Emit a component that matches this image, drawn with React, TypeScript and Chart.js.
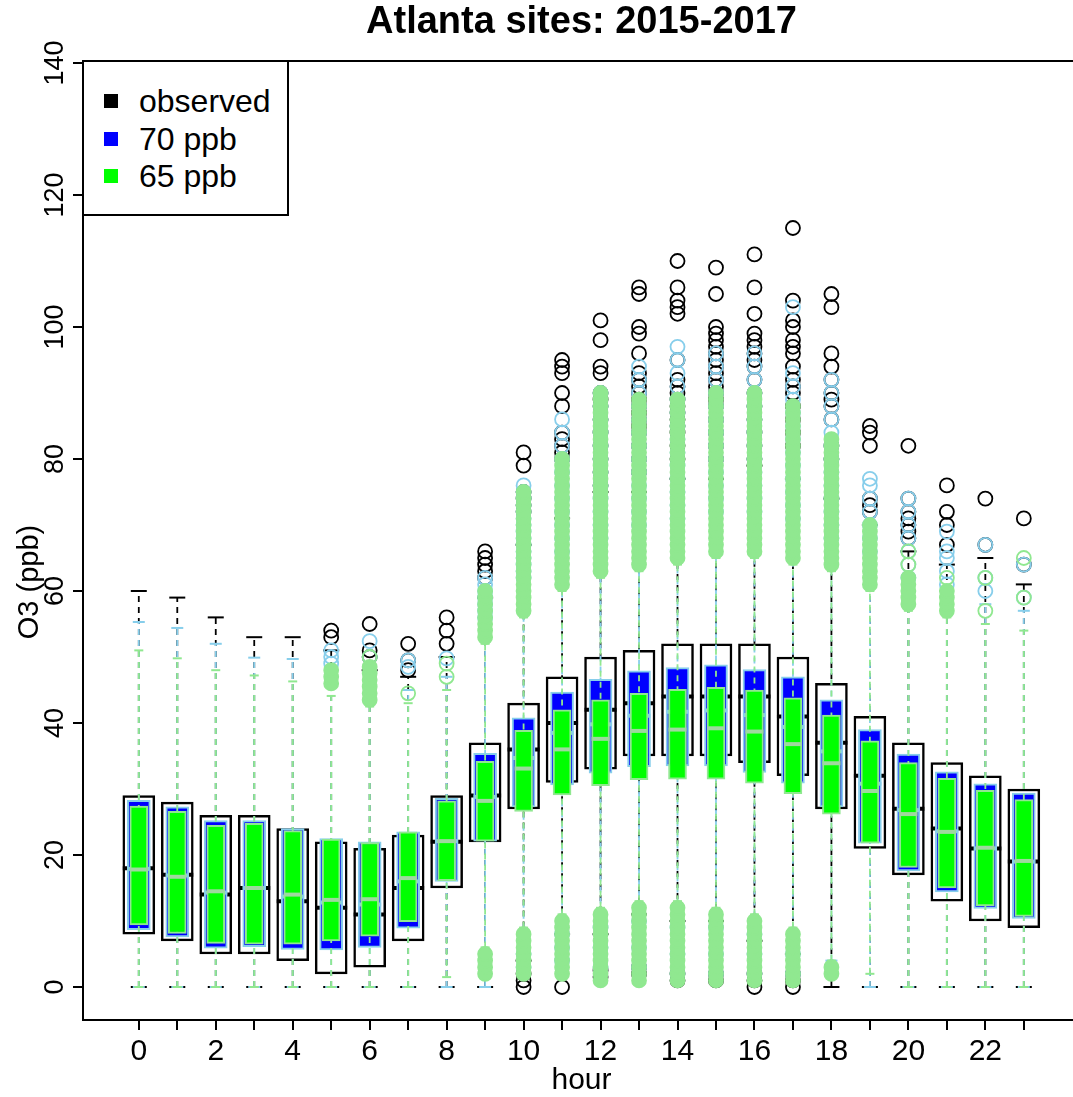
import React, { useEffect, useRef } from 'react';
import { Chart, registerables } from 'chart.js';
Chart.register(...registerables);

const FONT = '"Liberation Sans", Arial, Helvetica, sans-serif';

const titleText = 'Atlanta sites: 2015-2017';
const xTitle = 'hour';
const yTitle = 'O3 (ppb)';
const hours = [0, 1, 2, 3, 4, 5, 6, 7, 8, 9, 10, 11, 12, 13, 14, 15, 16, 17, 18, 19, 20, 21, 22, 23];
const labeledHours = [0, 2, 4, 6, 8, 10, 12, 14, 16, 18, 20, 22];
const yTicks = [0, 20, 40, 60, 80, 100, 120, 140];
const legendLabels = ['observed', '70 ppb', '65 ppb'];

// observed
const obsLow = [0, 0, 0, 0, 0, 0, 0, 0, 0, 0, 4, 8, 8, 11, 10, 10, 7, 5, 0, 0, 0, 0, 0, 0];
const obsQ1 = [8, 7, 5, 5, 4, 2, 3, 7, 15, 22, 27, 31, 33, 35, 35, 35, 34, 32, 27, 21, 17, 13, 10, 9];
const obsMed = [18, 17, 14, 15, 13, 12, 11, 15, 22, 29, 36, 40, 42, 43, 44, 44, 44, 41, 37, 32, 27, 24, 21, 19];
const obsQ3 = [29, 28, 26, 26, 24, 22, 21, 23, 29, 37, 43, 47, 50, 51, 52, 52, 52, 50, 46, 41, 37, 34, 32, 30];
const obsHigh = [60, 59, 56, 53, 53, 51, 48, 47, 50, 59, 67, 71, 75, 75, 77, 77, 79, 77, 74, 70, 66, 64, 65, 61];
const obsOut = [
  [], [], [], [], [],
  [53, 54],
  [50, 51, 55],
  [48, 49.5, 52],
  [52, 54, 56],
  [62, 63, 64, 65, 66],
  [0, 1, 2, 72, 73, 74, 75, 79, 81],
  [0, 80, 81, 82, 83, 84, 88, 90, 93, 94, 95],
  [1.5, 2.5, 76, 78, 80, 82, 84, 86, 88, 89, 90, 93, 94, 98, 101],
  [2, 3, 78, 80, 82, 84, 85, 86, 87, 88, 89, 90, 91, 92, 93, 96, 99, 100, 105, 106],
  [1, 2, 80, 82, 84, 85, 86, 87, 88, 89, 90, 91, 92, 95, 102, 103, 104, 106, 110],
  [1, 2, 80, 82, 84, 86, 88, 89, 90, 91, 92, 93, 94, 95, 96, 97, 98, 99, 100, 105, 109],
  [0, 1, 2, 80, 82, 84, 86, 88, 90, 92, 94, 95, 96, 97, 98, 99, 102, 106, 111],
  [0, 1, 2, 82, 84, 86, 88, 90, 91, 92, 94, 96, 97, 98, 100, 101, 104, 115],
  [80, 82, 86, 88, 89, 90, 92, 94, 96, 103, 105],
  [72, 73, 74, 82, 84, 85],
  [68, 69, 70, 71, 72, 74, 82],
  [67, 70, 72, 76],
  [67, 74],
  [64, 71],
];

// 70 ppb
const p70Low = [0, 0, 0, 0, 0, 0, 0, 0, 0, 0, 7, 9, 11, 12, 11, 11, 9, 7, 4, 0, 0, 0, 0, 0];
const p70Q1 = [8.7, 7.6, 5.9, 6.1, 5.7, 5.6, 6.0, 8.9, 16.0, 22.1, 27.3, 30.6, 32.4, 33.4, 33.5, 33.5, 32.5, 30.9, 27.3, 21.8, 17.6, 14.4, 11.9, 10.4];
const p70Med = [17.9, 16.9, 14.3, 15.0, 13.7, 12.8, 12.5, 16.0, 22.1, 28.8, 34.7, 38.5, 39.8, 41.1, 41.7, 41.9, 41.2, 39.4, 35.7, 30.8, 26.8, 23.6, 21.0, 19.0];
const p70Q3 = [28.3, 27.3, 25.2, 25.2, 24.0, 22.5, 22.0, 23.5, 28.6, 35.4, 40.8, 44.7, 46.6, 47.9, 48.4, 48.8, 48.1, 47.0, 43.5, 39.0, 35.3, 32.6, 30.8, 29.4];
const p70High = [55.3, 54.4, 52.0, 49.9, 49.7, 47, 45, 45, 47, 55, 61, 65, 67, 69, 70, 71, 71, 70, 67, 64, 61, 59, 58, 57];
const p70Out = [
  [], [], [], [], [],
  [49, 50, 51],
  [50, 52.4],
  [48.5, 49.5],
  [49.8],
  [56, 57, 58, 59, 60, 61, 62],
  [3, 5, 62, 63, 64, 65, 66, 67, 68, 69, 70, 71, 72, 73, 74, 75, 76],
  [4, 6, 8, 66, 68, 70, 72, 74, 76, 78, 80, 82, 84, 86],
  [3, 6, 9, 68, 70, 72, 74, 76, 78, 80, 82, 84, 86, 88, 90],
  [3, 6, 10, 70, 72, 74, 76, 78, 80, 82, 84, 86, 88, 90, 92, 94],
  [2, 5, 9, 71, 73, 75, 77, 79, 81, 83, 85, 87, 89, 91, 93, 95, 97],
  [2, 5, 9, 72, 74, 76, 78, 80, 82, 84, 86, 88, 90, 92, 94, 96],
  [2, 5, 8, 72, 74, 76, 78, 80, 82, 84, 86, 88, 90, 92, 94, 96],
  [2, 5, 71, 73, 75, 77, 79, 81, 83, 85, 87, 89, 91, 93, 103],
  [68, 70, 72, 74, 76, 78, 80, 82, 84, 86, 88, 90, 92],
  [66, 68, 70, 72, 74, 76, 77],
  [62, 64, 66, 68, 70, 72, 74],
  [61, 63, 65, 66, 69],
  [60, 62, 67],
  [59, 64],
];

// 65 ppb
const p65Low = [0, 0, 0, 0, 0, 0, 0, 0, 1.5, 6, 9, 11, 12, 13, 13, 12, 11, 9, 4, 2, 0, 0, 0, 0];
const p65Q1 = [9.4, 8.1, 6.6, 6.5, 6.5, 7.0, 7.7, 9.9, 16.1, 22.1, 26.6, 29.1, 30.5, 31.4, 31.5, 31.5, 30.9, 29.3, 26.2, 21.8, 18.1, 15.0, 12.3, 10.7];
const p65Med = [17.8, 16.7, 14.5, 15.0, 14.0, 13.2, 13.3, 16.5, 22.1, 28.2, 33.1, 36.0, 37.6, 38.8, 39.0, 39.2, 38.7, 36.8, 33.9, 29.7, 26.2, 23.5, 21.1, 19.1];
const p65Q3 = [27.4, 26.6, 24.5, 24.8, 23.7, 22.4, 21.9, 23.5, 28.2, 34.2, 38.9, 42.0, 43.5, 44.5, 45.1, 45.4, 45.0, 43.8, 41.2, 37.3, 34.0, 31.6, 29.8, 28.4];
const p65High = [51, 49.8, 48, 47.2, 46.3, 44.1, 42.5, 43, 45, 52, 56, 60, 62, 63, 64, 65, 65, 64, 63, 60, 57, 56, 55, 54];
const p65Out = [
  [], [], [], [], [],
  [46, 47, 48],
  [43.5, 44.5, 45.5, 46.5, 47.5, 48.5, 50],
  [44.5],
  [47, 49],
  [2, 3, 4, 5, 53, 54, 55, 56, 57, 58, 59, 60],
  [2, 3, 4, 5, 6, 7, 8, 57, 58, 59, 60, 61, 62, 63, 64, 65, 66, 67, 68, 69, 70, 71, 72, 73, 74, 75],
  [2, 3, 4, 5, 6, 7, 8, 9, 10, 61, 62, 63, 64, 65, 66, 67, 68, 69, 70, 71, 72, 73, 74, 75, 76, 77, 78, 79, 80],
  [1, 2, 3, 4, 5, 6, 7, 8, 9, 10, 11, 63, 64, 65, 66, 67, 68, 69, 70, 71, 72, 73, 74, 75, 76, 77, 78, 79, 80, 81, 82, 83, 84, 85, 86, 87, 88, 89, 90],
  [1, 2, 3, 4, 5, 6, 7, 8, 9, 10, 11, 12, 64, 65, 66, 67, 68, 69, 70, 71, 72, 73, 74, 75, 76, 77, 78, 79, 80, 81, 82, 83, 84, 85, 86, 87, 88, 89],
  [1, 2, 3, 4, 5, 6, 7, 8, 9, 10, 11, 12, 65, 66, 67, 68, 69, 70, 71, 72, 73, 74, 75, 76, 77, 78, 79, 80, 81, 82, 83, 84, 85, 86, 87, 88, 89],
  [1, 2, 3, 4, 5, 6, 7, 8, 9, 10, 11, 66, 67, 68, 69, 70, 71, 72, 73, 74, 75, 76, 77, 78, 79, 80, 81, 82, 83, 84, 85, 86, 87, 88, 89, 90],
  [1, 2, 3, 4, 5, 6, 7, 8, 9, 10, 66, 67, 68, 69, 70, 71, 72, 73, 74, 75, 76, 77, 78, 79, 80, 81, 82, 83, 84, 85, 86, 87, 88, 89, 90],
  [1, 2, 3, 4, 5, 6, 7, 8, 65, 66, 67, 68, 69, 70, 71, 72, 73, 74, 75, 76, 77, 78, 79, 80, 81, 82, 83, 84, 85, 86, 87, 88],
  [2, 3, 64, 65, 66, 67, 68, 69, 70, 71, 72, 73, 74, 75, 76, 77, 78, 79, 80, 81, 82, 83],
  [61, 62, 63, 64, 65, 66, 67, 68, 69, 70],
  [58, 59, 60, 61, 62, 64, 66],
  [57, 58, 59, 60, 62],
  [57, 62],
  [59, 65],
];

type Series = { lo: number[]; q1: number[]; med: number[]; q3: number[]; hi: number[]; out: number[][] };
type Style = { line: string; fill: string; median: string; boxW: number; boxBorder: number; capR: number; whiskerW: number; outFill: string | null };

function seriesDatasets(s: Series, st: Style, baseOrder: number): any[] {
  const whisk = hours.flatMap((h, i) => [
    { x: h, y: s.lo[i] },
    { x: h, y: s.hi[i] },
    { x: h, y: null },
  ]);
  const boxes = hours.map((h, i) => ({ x: h, y: [s.q1[i], s.q3[i]] }));
  const meds = hours.map((h, i) => ({ x: h, y: s.med[i] }));
  const outs = hours.flatMap((h, i) =>
    s.out[i].map((v) => ({
      x: h,
      y: v,
      dense: s.out[i].some((w) => w !== v && Math.abs(w - v) <= 1.1),
    }))
  );
  return [
    {
      type: 'line',
      data: whisk,
      borderColor: st.line,
      borderWidth: st.whiskerW,
      borderDash: [6, 5],
      fill: false,
      spanGaps: false,
      pointStyle: 'line',
      pointRadius: st.capR,
      pointHoverRadius: st.capR,
      pointBorderColor: st.line,
      pointBackgroundColor: st.line,
      pointBorderWidth: 2,
      order: baseOrder + 3,
    },
    {
      type: 'bar',
      data: boxes,
      backgroundColor: st.fill,
      borderColor: st.line,
      borderWidth: st.boxBorder,
      borderSkipped: false,
      barThickness: st.boxW,
      grouped: false,
      order: baseOrder + 2,
    },
    {
      type: 'line',
      data: meds,
      showLine: false,
      pointStyle: 'line',
      pointRadius: st.boxW / 2,
      pointHoverRadius: st.boxW / 2,
      pointBorderColor: st.median,
      pointBorderWidth: 4,
      order: baseOrder + 1,
    },
    {
      type: 'line',
      data: outs,
      showLine: false,
      pointStyle: 'circle',
      pointRadius: 7,
      pointHoverRadius: 7,
      pointBorderColor: st.line,
      pointBorderWidth: 1.8,
      pointBackgroundColor: (c: any) => (st.outFill && c.raw && c.raw.dense ? st.outFill : 'rgba(0,0,0,0)'),
      order: baseOrder,
    },
  ];
}

const axisTextPlugin = {
  id: 'axisText',
  afterDraw(chart: any) {
    const ctx = chart.ctx;
    const ys = chart.scales.y;
    ctx.save();
    ctx.fillStyle = '#000';
    ctx.textAlign = 'center';
    ctx.textBaseline = 'alphabetic';
    ctx.font = `27px ${FONT}`;
    for (const v of yTicks) {
      const py = ys.getPixelForValue(v);
      ctx.save();
      ctx.translate(63, py);
      ctx.rotate(-Math.PI / 2);
      ctx.fillText(String(v), 0, 0);
      ctx.restore();
    }
    ctx.font = `29px ${FONT}`;
    ctx.save();
    ctx.translate(38, 582);
    ctx.rotate(-Math.PI / 2);
    ctx.fillText(yTitle, 0, 0);
    ctx.restore();
    ctx.restore();
  },
};

export default function App() {
  const ref = useRef<HTMLCanvasElement>(null);
  useEffect(() => {
    const obs: Series = { lo: obsLow, q1: obsQ1, med: obsMed, q3: obsQ3, hi: obsHigh, out: obsOut };
    const s70: Series = { lo: p70Low, q1: p70Q1, med: p70Med, q3: p70Q3, hi: p70High, out: p70Out };
    const s65: Series = { lo: p65Low, q1: p65Q1, med: p65Med, q3: p65Q3, hi: p65High, out: p65Out };
    const datasets = [
      ...seriesDatasets(obs, { line: '#000000', fill: '#ffffff', median: '#000000', boxW: 32, boxBorder: 2.5, capR: 8, whiskerW: 1.8, outFill: null }, 9),
      ...seriesDatasets(s70, { line: '#87ceeb', fill: '#0000ff', median: '#87ceeb', boxW: 23, boxBorder: 2, capR: 6, whiskerW: 1.8, outFill: null }, 5),
      ...seriesDatasets(s65, { line: '#90e890', fill: '#00ff00', median: '#9fd89f', boxW: 18, boxBorder: 2, capR: 4.5, whiskerW: 1.8, outFill: '#90e890' }, 1),
    ];
    const xMin = -1.45;
    const xMax = 24.46;
    const chart = new Chart(ref.current as HTMLCanvasElement, {
      type: 'bar',
      data: { datasets } as any,
      plugins: [axisTextPlugin],
      options: {
        animation: false,
        responsive: false,
        events: [],
        layout: { padding: { left: 0, right: 18, top: 0, bottom: 0 } },
        plugins: {
          legend: { display: false },
          tooltip: { enabled: false },
          title: {
            display: true,
            text: titleText,
            color: '#000',
            font: { family: FONT, size: 38, weight: 'bold' },
            padding: { top: 0, bottom: 15.4 },
            fullSize: false,
          } as any,
        },
        scales: {
          x: {
            type: 'linear',
            min: xMin,
            max: xMax,
            offset: false,
            afterBuildTicks: (s: any) => {
              s.ticks = hours.map((v) => ({ value: v }));
            },
            afterFit: (s: any) => {
              s.height = 77;
            },
            ticks: {
              autoSkip: false,
              maxRotation: 0,
              minRotation: 0,
              padding: 4,
              color: '#000',
              font: { family: FONT, size: 30 },
              callback: (v: any) => (labeledHours.includes(Number(v)) ? String(v) : ''),
            },
            grid: { display: true, drawOnChartArea: false, drawTicks: true, tickLength: 10, color: '#000', lineWidth: 2, offset: false },
            border: { display: true, color: '#000', width: 2 },
            title: { display: true, text: xTitle, color: '#000', font: { family: FONT, size: 30 }, padding: { top: 0, bottom: -2 } },
          },
          x2: {
            type: 'linear',
            position: 'top',
            min: xMin,
            max: xMax,
            offset: false,
            afterFit: (s: any) => {
              s.height = 0;
            },
            ticks: { display: false },
            grid: { display: false, drawTicks: false },
            border: { display: true, color: '#000', width: 2 },
          },
          y: {
            type: 'linear',
            min: -5,
            max: 140.3,
            afterBuildTicks: (s: any) => {
              s.ticks = yTicks.map((v) => ({ value: v }));
            },
            afterFit: (s: any) => {
              s.width = 83;
            },
            ticks: { display: false },
            grid: { display: true, drawOnChartArea: false, drawTicks: true, tickLength: 10, color: '#000', lineWidth: 2 },
            border: { display: true, color: '#000', width: 2 },
          },
        } as any,
      },
    });
    return () => chart.destroy();
  }, []);

  const legendColors = ['#000000', '#0000ff', '#00ff00'];
  const rowCenters = [39, 77, 114];

  return (
    <div style={{ position: 'absolute', left: 0, top: 0, width: 1073, height: 1097, overflow: 'hidden', background: '#fff' }}>
      <canvas ref={ref} width={1100} height={1097} style={{ position: 'absolute', left: 0, top: 0, width: 1100, height: 1097 }} />
      <div
        style={{
          position: 'absolute',
          left: 82,
          top: 60,
          width: 207,
          height: 156,
          border: '2px solid #000',
          boxSizing: 'border-box',
          background: '#fff',
          fontFamily: FONT,
          fontSize: 32,
          color: '#000',
        }}
      >
        {legendLabels.map((lab, i) => (
          <div key={lab} style={{ position: 'absolute', left: 0, top: rowCenters[i] - 20, height: 40, display: 'flex', alignItems: 'center', whiteSpace: 'nowrap' }}>
            <span style={{ display: 'inline-block', width: 14, height: 14, background: legendColors[i], marginLeft: 20, marginRight: 21 }} />
            <span style={{ lineHeight: '40px' }}>{lab}</span>
          </div>
        ))}
      </div>
    </div>
  );
}
